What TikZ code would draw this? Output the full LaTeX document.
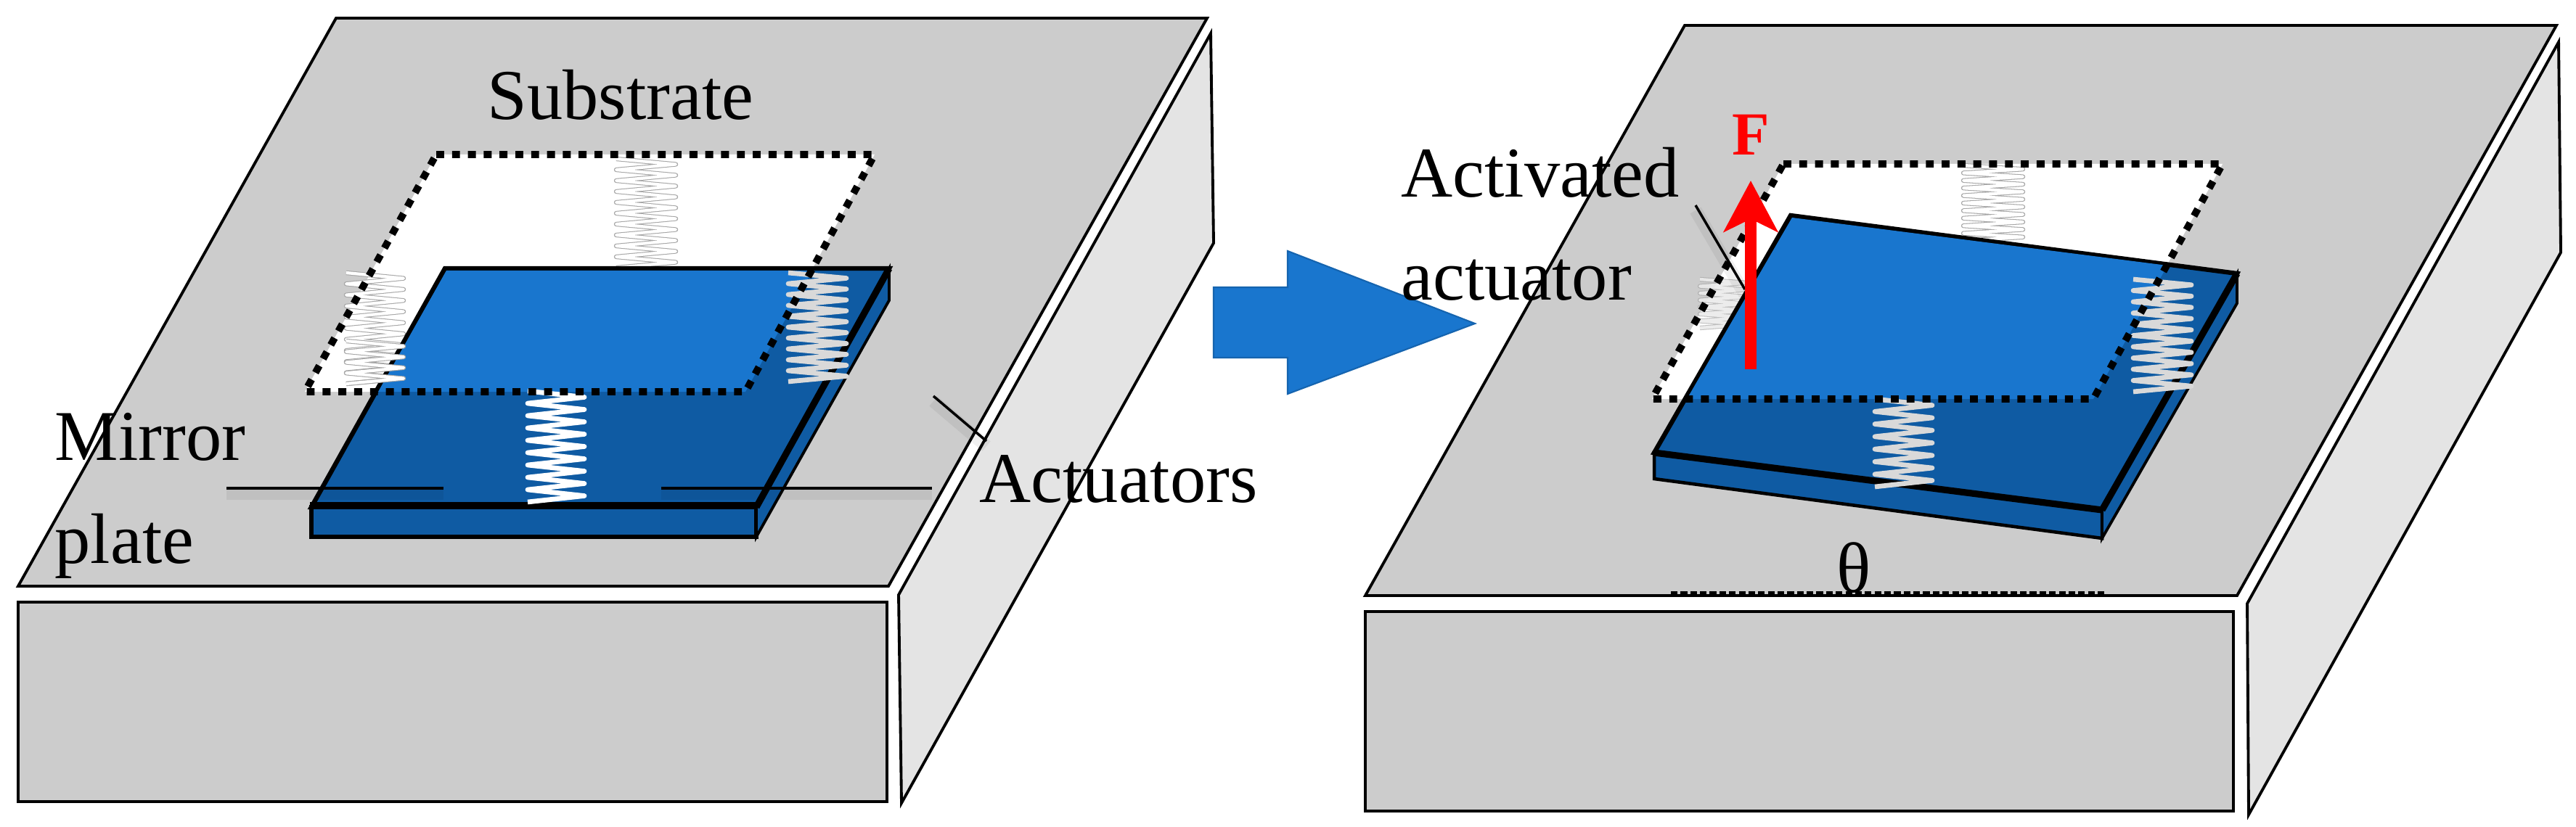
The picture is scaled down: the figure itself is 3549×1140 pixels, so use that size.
\documentclass[tikz,border=0pt]{standalone}
\usepackage{fontspec}
\setmainfont{Liberation Serif}
\usepackage{xcolor}
\usetikzlibrary{positioning,arrows.meta}
\definecolor{blockgray}{HTML}{CCCCCC}
\definecolor{sidegray}{HTML}{E4E4E4}
\definecolor{mirrordark}{HTML}{0F5BA3}
\definecolor{mirrorlight}{HTML}{1976CE}
% One spring: left x, right x, top y, bottom y, half turns
\newcommand{\coilspring}[6][]{\draw[coil,#1] (#2,#4) \foreach \i in {1,...,#6} { -- ({#2+mod(\i,2)*(#3-#2)},{#4+\i*(#5-#4)/#6}) };}
\tikzset{
	blockline/.style={draw=black,line width=1.1pt,line join=miter},
	holeedge/.style={draw=black,line width=2.8pt,dash pattern=on 3.1pt off 3.1pt},
	plateline/.style={draw=black,line width=1.8pt,line join=miter},
	plateedge/.style={draw=black,line width=2.6pt,line cap=butt},
	coil/.style={line join=round,line cap=butt},
	coilpale/.style={draw=gray!70,line width=.3pt,double=white,double distance=1.2pt},
	coilwhite/.style={draw=white,line width=1.9pt},
	coilgrey/.style={draw=gray!30,line width=1.9pt},
	leadline/.style={draw=black,line width=1pt,preaction={draw=black,opacity=.06,line width=5pt,transform canvas={yshift=-2pt}}},
	tag/.style={font=\fontsize{28}{30}\selectfont,inner sep=0pt,anchor=base west},
}
\begin{document}
\begin{tikzpicture}[x=.01cm,y=-.01cm]
	\useasboundingbox (0,0) rectangle (3549,1140);
	%Left block
	\fill[white] (0,0) rectangle (3549,1140);
	\draw[blockline,fill=blockgray] (463,25)--(1663,25)--(1224,808)--(25,808)--cycle;
	\draw[blockline,fill=blockgray] (25,830)--(1222,830)--(1222,1105)--(25,1105)--cycle;
	\draw[blockline,fill=sidegray] (1238,820)--(1668,46)--(1672,335)--(1242,1107)--cycle;
	%Opening in the substrate
	\fill[white] (601,213)--(1205,213)--(1027,540)--(420,540)--cycle;
	\coilspring[coilpale]{849}{931}{219}{369}{20}
	\coilspring[coilpale]{477}{556}{376}{529}{20}
	%Mirror plate
	\draw[plateline,fill=mirrordark] (613,370)--(1225,370)--(1042,699)--(429,699)--cycle;
	\draw[plateline,fill=mirrordark] (429,699)--(1042,699)--(1042,740)--(429,740)--cycle;
	\draw[blockline,fill=mirrordark] (1225,370)--(1225,414)--(1042,740)--(1042,699)--cycle;
	\fill[mirrorlight] (615,373)--(1119,373)--(1027,540)--(521,540)--cycle;
	\draw[plateedge] (427,697)--(1042,697);
	\draw[plateedge] (1042,699)--(1225,370);
	\coilspring[coilpale]{477}{556}{470}{529}{8}
	\coilspring[coilgrey]{1086}{1166}{376}{526}{20}
	\coilspring[coilwhite]{727}{805}{539}{692}{18}
	%Dotted outline on top
	\draw[holeedge] (601,213)--(1205,213)--(1027,540)--(420,540)--cycle;
	%Leader lines
	\coordinate (mirrorA) at (312,673);
	\coordinate (mirrorB) at (611,673);
	\coordinate (actA) at (911,673);
	\coordinate (actB) at (1284,673);
	\coordinate (actC) at (1286,546);
	\coordinate (actD) at (1359,608);
	\draw[leadline] (mirrorA)--(mirrorB);
	\draw[leadline] (actA)--(actB);
	\draw[leadline] (actC)--(actD);
	\node[tag,anchor=base] (substrate) at (855,165) {Substrate};
	\node[tag] (mirror) at (75,634) {Mirror};
	\node[tag] (plate) at (75,776) {plate};
	\node[tag] (actuators) at (1349,692) {Actuators};
	%Block arrow
	\draw[draw=mirrorlight!85!black,line width=.6pt,fill=mirrorlight] (1672,396)--(1774,396)--(1774,346)--(2032,446)--(1774,543)--(1774,493)--(1672,493)--cycle;
	%Right block
	\draw[blockline,fill=blockgray] (2321,35)--(3522,35)--(3082,821)--(1881,821)--cycle;
	\draw[blockline,fill=blockgray] (1881,843)--(3077,843)--(3077,1118)--(1881,1118)--cycle;
	\draw[blockline,fill=sidegray] (3096,832)--(3525,58)--(3528,348)--(3098,1123)--cycle;
	\fill[white] (2457,226)--(3062,226)--(2884,550)--(2276,550)--cycle;
	\coilspring[coilpale]{2705}{2787}{228}{332}{20}
	\coilspring[coilpale,opacity=.7]{2342}{2405}{385}{452}{14}
	%Tilted mirror plate
	\draw[plateline,fill=mirrordark] (2467,297)--(3082,377)--(2896,703)--(2279,624)--cycle;
	\draw[blockline,line width=1.3pt,fill=mirrordark] (2279,624)--(2896,703)--(2896,742)--(2279,660)--cycle;
	\draw[blockline,fill=mirrordark] (3082,377)--(3082,418)--(2896,742)--(2896,703)--cycle;
	\fill[mirrorlight] (2469,300)--(2986,366)--(2884,550)--(2324,550)--cycle;
	\draw[plateedge] (2279,624)--(2896,703);
	\draw[plateedge] (2896,703)--(3082,377);
	\coilspring[coilgrey]{2939}{3019}{385}{540}{20}
	\coilspring[coilgrey]{2583}{2662}{550}{671}{14}
	\draw[holeedge] (2457,226)--(3062,226)--(2884,550)--(2276,550)--cycle;
	%Force and labels
	\coordinate (forceA) at (2412,509);
	\coordinate (forceB) at (2412,249);
	\coordinate (leadA) at (2336,283);
	\coordinate (leadB) at (2404,399);
	\coordinate (thetaA) at (2302,817);
	\coordinate (thetaB) at (2902,817);
	\draw[leadline] (leadA)--(leadB);
	\draw[red,line width=4.5pt,-{Stealth[length=20pt,width=21pt,inset=5pt]}] (forceA)--(forceB);
	\draw[black,line width=1.1pt,dash pattern=on 2.6pt off 1.2pt] (thetaA)--(thetaB);
	\node[tag,anchor=base,text=red,font=\fontsize{24}{26}\selectfont\bfseries] (force) at (2412,214) {F};
	\node[tag] (activated) at (1930,272) {Activated};
	\node[tag] (actuator) at (1930,414) {actuator};
	\node[tag,anchor=base] (theta) at (2554,816) {θ};
\end{tikzpicture}
\end{document}
